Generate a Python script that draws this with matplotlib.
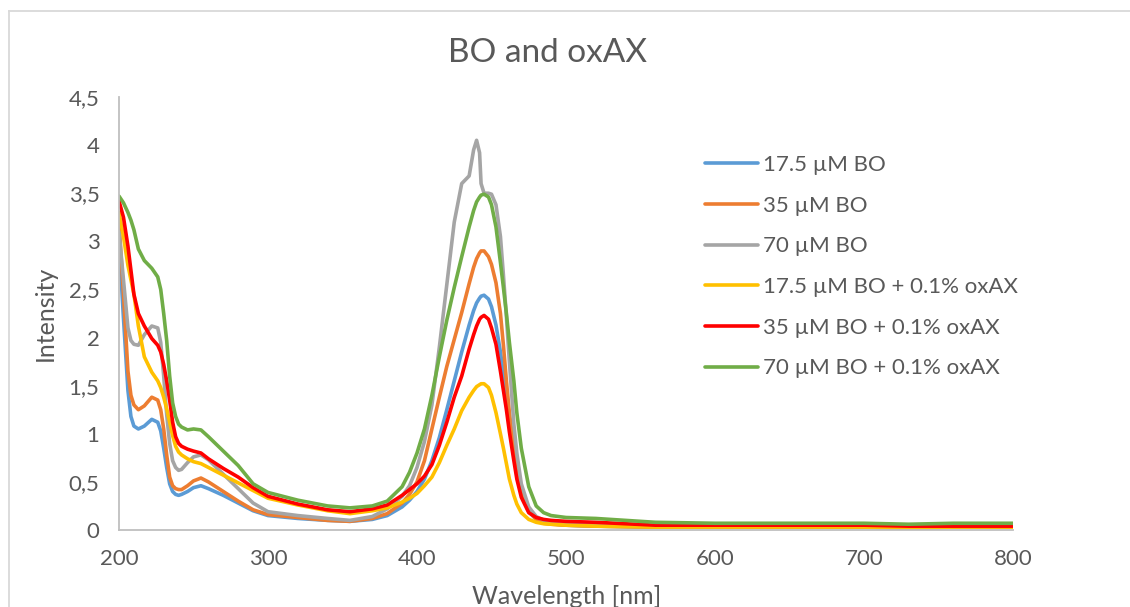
import numpy as np
import matplotlib
matplotlib.use("Agg")
import matplotlib.pyplot as plt
from matplotlib.ticker import FuncFormatter, MultipleLocator
from matplotlib.lines import Line2D

# wavelength grid [nm], shared by all series
wavelength = [200, 203, 206, 208, 210, 213, 217, 222, 226, 228,
              230, 232, 234, 236, 238, 240, 242, 246, 250, 255,
              260, 270, 280, 290, 300, 320, 340, 355, 370, 380,
              390, 395, 400, 405, 410, 415, 420, 425, 430, 435,
              438, 440, 442, 443, 445, 448, 450, 453, 456, 458,
              460, 462, 465, 467, 470, 475, 480, 485, 490, 500,
              520, 560, 600, 650, 700, 730, 760, 800]

bo_17 = [3.00, 2.20, 1.45, 1.18, 1.08, 1.05, 1.08, 1.15, 1.12, 1.03,
         0.85, 0.65, 0.48, 0.40, 0.37, 0.36, 0.37, 0.40, 0.44, 0.46,
         0.43, 0.36, 0.28, 0.20, 0.15, 0.12, 0.10, 0.09, 0.11, 0.15,
         0.24, 0.31, 0.40, 0.53, 0.72, 0.96, 1.25, 1.55, 1.85, 2.13,
         2.28, 2.36, 2.41, 2.43, 2.44, 2.40, 2.32, 2.13, 1.85, 1.62,
         1.38, 1.12, 0.78, 0.58, 0.38, 0.19, 0.11, 0.08, 0.065, 0.05,
         0.04, 0.03, 0.03, 0.03, 0.03, 0.02, 0.03, 0.03]

bo_35 = [3.20, 2.45, 1.65, 1.40, 1.30, 1.25, 1.29, 1.38, 1.35, 1.25,
         1.05, 0.78, 0.55, 0.46, 0.43, 0.42, 0.42, 0.46, 0.51, 0.54,
         0.50, 0.40, 0.30, 0.21, 0.16, 0.13, 0.10, 0.09, 0.12, 0.17,
         0.28, 0.37, 0.50, 0.72, 1.05, 1.38, 1.70, 1.98, 2.26, 2.56,
         2.73, 2.82, 2.88, 2.90, 2.90, 2.84, 2.76, 2.57, 2.25, 1.92,
         1.55, 1.22, 0.85, 0.63, 0.40, 0.20, 0.11, 0.07, 0.06, 0.05,
         0.04, 0.03, 0.03, 0.03, 0.03, 0.02, 0.03, 0.03]

bo_70 = [3.10, 2.60, 2.10, 1.97, 1.93, 1.92, 2.03, 2.12, 2.10, 1.95,
         1.60, 1.20, 0.90, 0.72, 0.65, 0.62, 0.63, 0.70, 0.76, 0.78,
         0.73, 0.58, 0.43, 0.28, 0.19, 0.15, 0.12, 0.10, 0.14, 0.22,
         0.35, 0.46, 0.65, 0.92, 1.30, 1.90, 2.55, 3.20, 3.60, 3.68,
         3.95, 4.05, 3.92, 3.60, 3.50, 3.50, 3.49, 3.38, 3.05, 2.65,
         2.22, 1.75, 1.10, 0.80, 0.48, 0.24, 0.14, 0.10, 0.08, 0.07,
         0.05, 0.04, 0.04, 0.04, 0.04, 0.03, 0.04, 0.04]

bo_17_ox = [3.30, 3.05, 2.75, 2.60, 2.45, 2.12, 1.80, 1.64, 1.55, 1.48,
            1.38, 1.26, 1.12, 0.98, 0.87, 0.81, 0.78, 0.74, 0.71, 0.69,
            0.65, 0.57, 0.49, 0.41, 0.33, 0.26, 0.20, 0.17, 0.20, 0.23,
            0.29, 0.33, 0.38, 0.46, 0.55, 0.70, 0.88, 1.05, 1.24, 1.38,
            1.45, 1.49, 1.51, 1.52, 1.52, 1.48, 1.40, 1.22, 1.00, 0.85,
            0.69, 0.53, 0.36, 0.27, 0.18, 0.11, 0.08, 0.065, 0.06, 0.05,
            0.04, 0.03, 0.03, 0.03, 0.03, 0.02, 0.03, 0.03]

bo_35_ox = [3.42, 3.25, 2.95, 2.70, 2.45, 2.25, 2.12, 1.99, 1.92, 1.85,
            1.72, 1.55, 1.35, 1.12, 0.97, 0.90, 0.87, 0.84, 0.82, 0.80,
            0.74, 0.64, 0.55, 0.44, 0.35, 0.27, 0.21, 0.19, 0.22, 0.26,
            0.36, 0.42, 0.48, 0.56, 0.68, 0.88, 1.12, 1.38, 1.60, 1.88,
            2.03, 2.12, 2.19, 2.21, 2.23, 2.19, 2.10, 1.93, 1.65, 1.45,
            1.25, 1.02, 0.72, 0.53, 0.34, 0.18, 0.13, 0.11, 0.10, 0.09,
            0.08, 0.05, 0.05, 0.05, 0.05, 0.04, 0.04, 0.04]

bo_70_ox = [3.47, 3.40, 3.30, 3.22, 3.12, 2.92, 2.80, 2.72, 2.63, 2.50,
            2.25, 1.97, 1.60, 1.32, 1.18, 1.10, 1.07, 1.04, 1.05, 1.04,
            0.97, 0.82, 0.67, 0.48, 0.39, 0.31, 0.25, 0.23, 0.25, 0.30,
            0.45, 0.60, 0.80, 1.05, 1.40, 1.80, 2.18, 2.52, 2.84, 3.15,
            3.32, 3.41, 3.46, 3.48, 3.49, 3.46, 3.38, 3.15, 2.78, 2.52,
            2.25, 1.95, 1.55, 1.22, 0.85, 0.45, 0.25, 0.18, 0.15, 0.13,
            0.12, 0.08, 0.07, 0.07, 0.07, 0.06, 0.07, 0.07]

labels = ["17.5 \u00b5M BO", "35 \u00b5M BO", "70 \u00b5M BO",
          "17.5 \u00b5M BO + 0.1% oxAX", "35 \u00b5M BO + 0.1% oxAX",
          "70 \u00b5M BO + 0.1% oxAX"]
series = [bo_17, bo_35, bo_70, bo_17_ox, bo_35_ox, bo_70_ox]
colors = ["#5B9BD5", "#ED7D31", "#A5A5A5", "#FFC000", "#FF0000", "#70AD47"]

text_color = "#595959"
plt.rcParams["font.family"] = ["Lato", "DejaVu Sans"]

fig = plt.figure(figsize=(11.3, 6.07), dpi=100)
ax = fig.add_axes([119 / 1130, 1 - 530 / 607, (1013 - 119) / 1130, (530 - 97) / 607])

for vals, lab, col in zip(series, labels, colors):
    ax.plot(wavelength, vals, color=col, lw=2.6, label=lab,
            solid_joinstyle="round", solid_capstyle="round")

ax.set_xlim(200, 800)
ax.set_ylim(0, 4.5)
ax.xaxis.set_major_locator(MultipleLocator(100))
ax.yaxis.set_major_locator(MultipleLocator(0.5))
# comma as decimal separator, like the original
ax.yaxis.set_major_formatter(FuncFormatter(lambda v, p: "{:g}".format(v).replace(".", ",")))
ax.tick_params(length=0, labelsize=16, colors=text_color)
ax.tick_params(axis="y", pad=14)
ax.tick_params(axis="x", pad=14)

for s in ["top", "right"]:
    ax.spines[s].set_visible(False)
for s in ["left", "bottom"]:
    ax.spines[s].set_color("#BFBFBF")
    ax.spines[s].set_linewidth(1.3)

fig.text(548 / 1130, 1 - 53 / 607, "BO and oxAX", ha="center", va="center",
         fontsize=24, color=text_color)
fig.text(45 / 1130, 1 - 313 / 607, "Intensity", ha="center", va="center",
         rotation=90, fontsize=18, color=text_color)
fig.text(567 / 1130, 1 - 597 / 607, "Wavelength [nm]", ha="center", va="center",
         fontsize=18, color=text_color)

leg = ax.legend(loc="upper left", bbox_to_anchor=(705 / 1130, 1 - 155 / 607),
                bbox_transform=fig.transFigure, frameon=False, fontsize=16,
                handlelength=2.4, handletextpad=0.22, labelspacing=0.93,
                borderpad=0, borderaxespad=0)
for t in leg.get_texts():
    t.set_color(text_color)

# chart area border (only top and left edges are inside the crop)
fig.add_artist(Line2D([9 / 1130, 1.0], [1 - 11 / 607, 1 - 11 / 607],
                      transform=fig.transFigure, color="#D9D9D9", lw=1.3))
fig.add_artist(Line2D([9 / 1130, 9 / 1130], [0.0, 1 - 11 / 607],
                      transform=fig.transFigure, color="#D9D9D9", lw=1.3))

fig.savefig("out.png", dpi=100)
plt.close()
